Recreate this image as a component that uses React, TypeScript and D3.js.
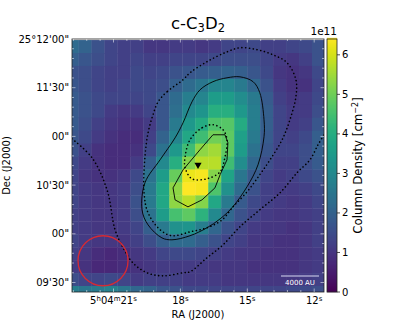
import { useEffect, useRef } from "react";
import * as d3 from "d3";

// column density in units of 1e11 cm^-2, top row first
const density: number[][] = [
  [2.2, 2.0, 1.6, 1.3, 1.2, 1.2, 1.0, 1.0, 1.1, 1.1, 1.0, 1.1, 1.3, 1.3, 1.4, 1.2, 1.2, 1.3, 1.4, 1.6],
  [1.9, 1.7, 1.5, 1.3, 1.2, 1.3, 1.2, 1.2, 1.3, 1.3, 1.3, 1.4, 1.5, 1.5, 1.5, 1.3, 1.1, 1.0, 1.2, 1.6],
  [1.6, 1.5, 1.3, 1.2, 1.2, 1.4, 1.3, 1.4, 1.6, 1.7, 1.8, 1.9, 2.0, 1.9, 1.7, 1.4, 1.0, 0.9, 1.0, 1.4],
  [1.7, 1.5, 1.3, 1.2, 1.3, 1.4, 1.4, 1.5, 1.9, 2.2, 2.5, 2.9, 2.9, 2.6, 2.1, 1.6, 1.1, 0.9, 0.9, 1.3],
  [1.8, 1.6, 1.4, 1.3, 1.3, 1.3, 1.4, 1.7, 2.2, 2.7, 2.9, 3.5, 3.5, 3.1, 2.6, 1.8, 1.2, 1.0, 1.1, 1.4],
  [1.8, 1.6, 1.4, 1.1, 1.0, 1.1, 1.3, 1.7, 2.3, 3.0, 3.3, 4.0, 4.0, 3.4, 2.7, 1.9, 1.3, 1.1, 1.1, 1.5],
  [1.8, 1.5, 1.2, 1.0, 0.9, 0.9, 1.1, 1.7, 2.6, 3.4, 3.9, 4.6, 4.7, 3.9, 2.7, 1.9, 1.3, 1.1, 1.2, 1.7],
  [1.7, 1.4, 1.1, 0.9, 0.8, 0.8, 1.2, 2.0, 2.9, 3.8, 4.4, 5.0, 4.8, 3.6, 2.6, 1.8, 1.3, 1.2, 1.4, 1.9],
  [1.6, 1.2, 0.9, 0.8, 0.8, 0.9, 1.4, 2.4, 3.4, 4.4, 5.3, 5.5, 4.8, 3.5, 2.4, 1.7, 1.3, 1.3, 1.5, 1.9],
  [1.4, 1.1, 0.9, 0.8, 0.8, 1.1, 1.9, 3.0, 4.0, 5.2, 5.7, 5.7, 4.4, 3.1, 2.1, 1.5, 1.2, 1.2, 1.5, 1.8],
  [1.3, 1.0, 0.9, 0.9, 1.0, 1.4, 2.4, 3.5, 4.9, 6.2, 6.3, 5.2, 3.7, 2.5, 1.8, 1.3, 1.1, 1.2, 1.4, 1.6],
  [1.3, 1.1, 1.0, 1.0, 1.1, 1.5, 2.6, 3.8, 5.3, 6.4, 6.3, 4.6, 3.2, 2.2, 1.6, 1.2, 1.1, 1.1, 1.2, 1.4],
  [1.3, 1.1, 1.0, 1.0, 1.1, 1.6, 2.6, 3.8, 5.3, 5.7, 5.2, 3.8, 2.6, 1.8, 1.4, 1.2, 1.1, 1.0, 1.1, 1.3],
  [1.2, 1.1, 1.0, 1.0, 1.1, 1.5, 2.4, 3.5, 4.5, 4.8, 4.1, 3.0, 2.1, 1.6, 1.3, 1.1, 1.0, 1.0, 1.1, 1.2],
  [1.2, 1.1, 1.0, 1.0, 1.1, 1.3, 1.9, 2.6, 3.2, 3.3, 2.7, 2.1, 1.6, 1.3, 1.1, 1.0, 1.0, 0.9, 1.0, 1.2],
  [1.3, 1.1, 1.0, 1.0, 1.0, 1.2, 1.5, 1.9, 2.2, 2.2, 1.9, 1.6, 1.3, 1.2, 1.0, 1.0, 0.9, 0.9, 1.0, 1.2],
  [1.2, 1.0, 0.8, 0.7, 0.8, 1.0, 1.1, 1.3, 1.4, 1.4, 1.3, 1.2, 1.1, 1.0, 1.0, 0.9, 0.9, 0.9, 1.0, 1.1],
  [1.1, 0.9, 0.7, 0.7, 0.8, 0.9, 1.0, 1.1, 1.1, 1.1, 1.1, 1.0, 1.0, 1.0, 0.9, 0.9, 0.9, 0.9, 1.0, 1.1],
  [1.5, 1.3, 1.3, 1.4, 1.3, 1.1, 1.2, 1.2, 1.2, 1.1, 1.1, 1.1, 1.0, 1.0, 1.0, 1.0, 1.0, 1.0, 1.1, 1.2],
  [2.7, 2.5, 2.6, 2.8, 2.5, 2.1, 2.0, 1.7, 1.6, 1.4, 1.4, 1.3, 1.3, 1.3, 1.3, 1.3, 1.3, 1.4, 1.4, 1.5],
];

// contours as [RA seconds past 5h04m, arcsec north of 25d10m]
const dottedOuter: [number, number][] = [
  [17.88, 94.9], [18.6, 87.5], [19.0, 81.3], [19.23, 73.3], [19.45, 62.2], [19.59, 47.4],
  [19.63, 25.3], [19.45, 12.9], [18.91, 2.5], [18.38, -1.2], [17.57, 1.2], [16.81, 3.7], [16.13, 8.6],
  [15.64, 16.6], [15.01, 25.9], [14.44, 36.4], [13.98, 45.6], [13.44, 57.9], [13.09, 70.2], [12.82, 84.4],
  [12.82, 94.9], [13.22, 105.4], [13.85, 110.3], [14.56, 113.4], [15.33, 114.6], [15.91, 112.1],
  [16.81, 106.0], [17.57, 99.2],
];
const solidOuter: [number, number][] = [
  [17.12, 88.7], [17.48, 81.3], [17.88, 68.4], [18.24, 59.1], [18.91, 45.6], [19.59, 31.4], [19.72, 14.8],
  [19.45, 5.5], [18.83, -2.5], [18.38, -3.7], [17.57, -1.2], [16.81, 3.7], [16.22, 9.2], [15.69, 16.0],
  [15.01, 29.0], [14.52, 42.5], [14.25, 59.8], [14.25, 70.2], [14.44, 86.9], [14.74, 93.7], [15.33, 96.7],
  [15.91, 96.1], [16.54, 93.7],
];
const dottedInner: [number, number][] = [
  [16.54, 67.2], [17.03, 65.3], [17.57, 57.9], [17.79, 47.4], [17.79, 40.7], [17.48, 33.9], [16.81, 33.9],
  [16.22, 38.2], [16.0, 47.4], [15.91, 57.9], [16.09, 64.1],
];
const solidInner: [number, number][] = [
  [16.54, 61], [16.0, 61], [15.87, 56.1], [15.91, 45.6], [16.22, 36.4], [16.45, 28.3], [17.03, 20.9],
  [17.66, 16.6], [18.24, 20.9], [18.33, 28.3], [17.88, 39.4], [17.12, 51.8],
];
const dottedSweep: [number, number][] = [
  [22.86, 58.5], [21.96, 46.8], [21.29, 27.1], [20.93, 2.5], [20.57, -8.6], [20.13, -17.9], [19.5, -24],
  [18.78, -25.9], [17.88, -24], [17.57, -23.4], [16.81, -14.8], [16.09, -6.8], [15.33, 4.3], [14.44, 14.8],
  [13.53, 25.3], [12.77, 37.6], [12.19, 45.6], [11.83, 54.8], [11.56, 61],
];

const source: [number, number] = [17.21, 42.5];
const beam = { ra: 21.47, dec: -16.6, radius: 15.4 };
const raTicks = [21, 18, 15, 12];
const decTicks = [120, 90, 60, 30, 0, -30];
const decLabels = ["25°12'00\"", "11'30\"", "00\"", "10'30\"", "00\"", "09'30\""];
const barTicks = [0, 1, 2, 3, 4, 5, 6];

const width = 399;
const height = 328;
const plot = { left: 72, right: 324, top: 39, bottom: 292 };
const bar = { left: 327, right: 337 };
const font = "'DejaVu Sans', sans-serif";

export default function App() {
  const ref = useRef<SVGSVGElement>(null);

  useEffect(() => {
    const svg = d3.select(ref.current);
    svg.selectAll("*").remove();

    const x = d3.scaleLinear().domain([21, 12]).range([113.5, 314.2]);
    const y = d3.scaleLinear().domain([120, -30]).range([39, 282.5]);
    const col = d3.scaleLinear().domain([1, 19]).range([78.5, 312]);
    const row = d3.scaleLinear().domain([1, 19]).range([53, 286]);
    const colour = d3.scaleSequential(d3.interpolateViridis).domain([0, 6.4]);
    const barY = d3.scaleLinear().domain([0, 6.4]).range([plot.bottom, plot.top]);

    svg.append("clipPath").attr("id", "plot-clip").append("rect")
      .attr("x", plot.left).attr("y", plot.top)
      .attr("width", plot.right - plot.left).attr("height", plot.bottom - plot.top);

    const inner = svg.append("g").attr("clip-path", "url(#plot-clip)");

    // image cells
    density.forEach((values, r) => {
      inner.selectAll(`.cell-${r}`)
        .data(values)
        .join("rect")
        .attr("class", `cell-${r}`)
        .attr("x", (_, c) => col(c))
        .attr("y", row(r))
        .attr("width", col(1) - col(0) + 0.4)
        .attr("height", row(1) - row(0) + 0.4)
        .attr("fill", d => colour(d));
    });

    const line = d3.line<[number, number]>().x(d => x(d[0])).y(d => y(d[1]));
    const drawLine = (path: string | null, dotted: boolean) => {
      inner.append("path")
        .attr("d", path)
        .attr("fill", "none")
        .attr("stroke", "black")
        .attr("stroke-width", dotted ? 1.6 : 0.9)
        .attr("stroke-linecap", dotted ? "round" : "butt")
        .attr("stroke-dasharray", dotted ? "0.1 3.7" : null);
    };
    const closed = d3.curveCatmullRomClosed.alpha(0.5);
    drawLine(line.curve(closed)(dottedOuter), true);
    drawLine(line.curve(closed)(solidOuter), false);
    drawLine(line.curve(closed)(dottedInner), true);
    drawLine(line.curve(d3.curveLinearClosed)(solidInner), false);
    drawLine(line.curve(d3.curveCatmullRom)(dottedSweep), true);

    // beam
    inner.append("circle")
      .attr("cx", x(beam.ra)).attr("cy", y(beam.dec))
      .attr("r", y(0) - y(beam.radius))
      .attr("fill", "none")
      .attr("stroke", "#d62a33")
      .attr("stroke-width", 1.3);

    // source marker
    inner.append("path")
      .attr("d", d3.symbol(d3.symbolTriangle, 22)())
      .attr("transform", `translate(${x(source[0])},${y(source[1])}) rotate(180)`)
      .attr("fill", "black");

    // scale bar
    inner.append("line")
      .attr("x1", 281).attr("x2", 319).attr("y1", 276).attr("y2", 276)
      .attr("stroke", "#d8d8f0").attr("stroke-width", 1);
    inner.append("text")
      .attr("x", 300).attr("y", 285)
      .attr("text-anchor", "middle")
      .attr("font-size", 7)
      .attr("font-family", font)
      .attr("fill", "white")
      .text("4000 AU");

    // frame
    svg.append("rect")
      .attr("x", plot.left).attr("y", plot.top)
      .attr("width", plot.right - plot.left).attr("height", plot.bottom - plot.top)
      .attr("fill", "none").attr("stroke", "#222").attr("stroke-width", 0.8);

    // inward ticks on all sides, 5 minor per major
    const ticks = svg.append("g").attr("stroke", "white").attr("stroke-width", 0.7).attr("stroke-opacity", 0.75);
    d3.range(-4, 48).forEach(i => {
      const v = 21 - i * 0.6 + 1.2;
      const px = x(v);
      if (px <= plot.left || px >= plot.right) return;
      const len = i % 5 === 2 ? 3.5 : 2;
      ticks.append("line").attr("x1", px).attr("x2", px).attr("y1", plot.bottom).attr("y2", plot.bottom - len);
      ticks.append("line").attr("x1", px).attr("x2", px).attr("y1", plot.top).attr("y2", plot.top + len);
    });
    d3.range(0, 27).forEach(i => {
      const v = 120 - i * 6;
      const py = y(v);
      if (py <= plot.top || py >= plot.bottom) return;
      const len = i % 5 === 0 ? 3.5 : 2;
      ticks.append("line").attr("y1", py).attr("y2", py).attr("x1", plot.left).attr("x2", plot.left + len);
      ticks.append("line").attr("y1", py).attr("y2", py).attr("x1", plot.right).attr("x2", plot.right - len);
    });

    const label = (px: number, py: number, anchor: string, size: number) =>
      svg.append("text")
        .attr("x", px).attr("y", py)
        .attr("text-anchor", anchor)
        .attr("font-size", size)
        .attr("font-family", font)
        .attr("fill", "black");

    // RA tick labels with raised units
    raTicks.forEach((v, i) => {
      const t = label(x(v), 304, "middle", 10);
      const sup = (s: string) => t.append("tspan").attr("font-size", 7).attr("dy", -3.5).text(s);
      const base = (s: string) => t.append("tspan").attr("font-size", 10).attr("dy", 3.5).text(s);
      if (i === 0) {
        t.append("tspan").text("5");
        sup("h");
        base("04");
        sup("m");
        base("21");
        sup("s");
      } else {
        t.append("tspan").text(String(v));
        sup("s");
      }
    });

    decTicks.forEach((v, i) => {
      label(plot.left - 3, y(v) + 3.5, "end", 10).text(decLabels[i]);
    });

    label((plot.left + plot.right) / 2, 318, "middle", 10).text("RA (J2000)");
    label(0, 0, "middle", 10)
      .attr("transform", `translate(10,${(plot.top + plot.bottom) / 2}) rotate(-90)`)
      .text("Dec (J2000)");

    // title
    const title = label((plot.left + plot.right) / 2, 29, "middle", 16.5);
    title.append("tspan").text("c-C");
    title.append("tspan").attr("font-size", 11.5).attr("dy", 3).text("3");
    title.append("tspan").attr("dy", -3).text("D");
    title.append("tspan").attr("font-size", 11.5).attr("dy", 3).text("2");

    // colorbar
    const barSteps = d3.range(0, 6.4, 6.4 / 253);
    svg.append("g").selectAll("rect")
      .data(barSteps)
      .join("rect")
      .attr("x", bar.left)
      .attr("width", bar.right - bar.left)
      .attr("y", d => barY(d) - 1.2)
      .attr("height", 1.4)
      .attr("fill", d => colour(d));
    svg.append("rect")
      .attr("x", bar.left).attr("y", plot.top)
      .attr("width", bar.right - bar.left).attr("height", plot.bottom - plot.top)
      .attr("fill", "none").attr("stroke", "#222").attr("stroke-width", 0.8);
    barTicks.forEach(v => {
      svg.append("line")
        .attr("x1", bar.right).attr("x2", bar.right + 3)
        .attr("y1", barY(v)).attr("y2", barY(v))
        .attr("stroke", "#222").attr("stroke-width", 0.8);
      label(bar.right + 5, barY(v) + 3.5, "start", 10).text(String(v));
    });
    label(bar.right, 35, "end", 10.5).text("1e11");

    const barLabel = label(0, 0, "middle", 11.8)
      .attr("transform", `translate(362,${(plot.top + plot.bottom) / 2}) rotate(-90)`);
    barLabel.append("tspan").text("Column Density  [cm");
    barLabel.append("tspan").attr("font-size", 8).attr("dy", -4).text("−2");
    barLabel.append("tspan").attr("dy", 4).text("]");
  }, []);

  return (
    <svg
      ref={ref}
      width={width}
      height={height}
      style={{ position: "absolute", left: 0, top: 0, background: "white" }}
    />
  );
}
